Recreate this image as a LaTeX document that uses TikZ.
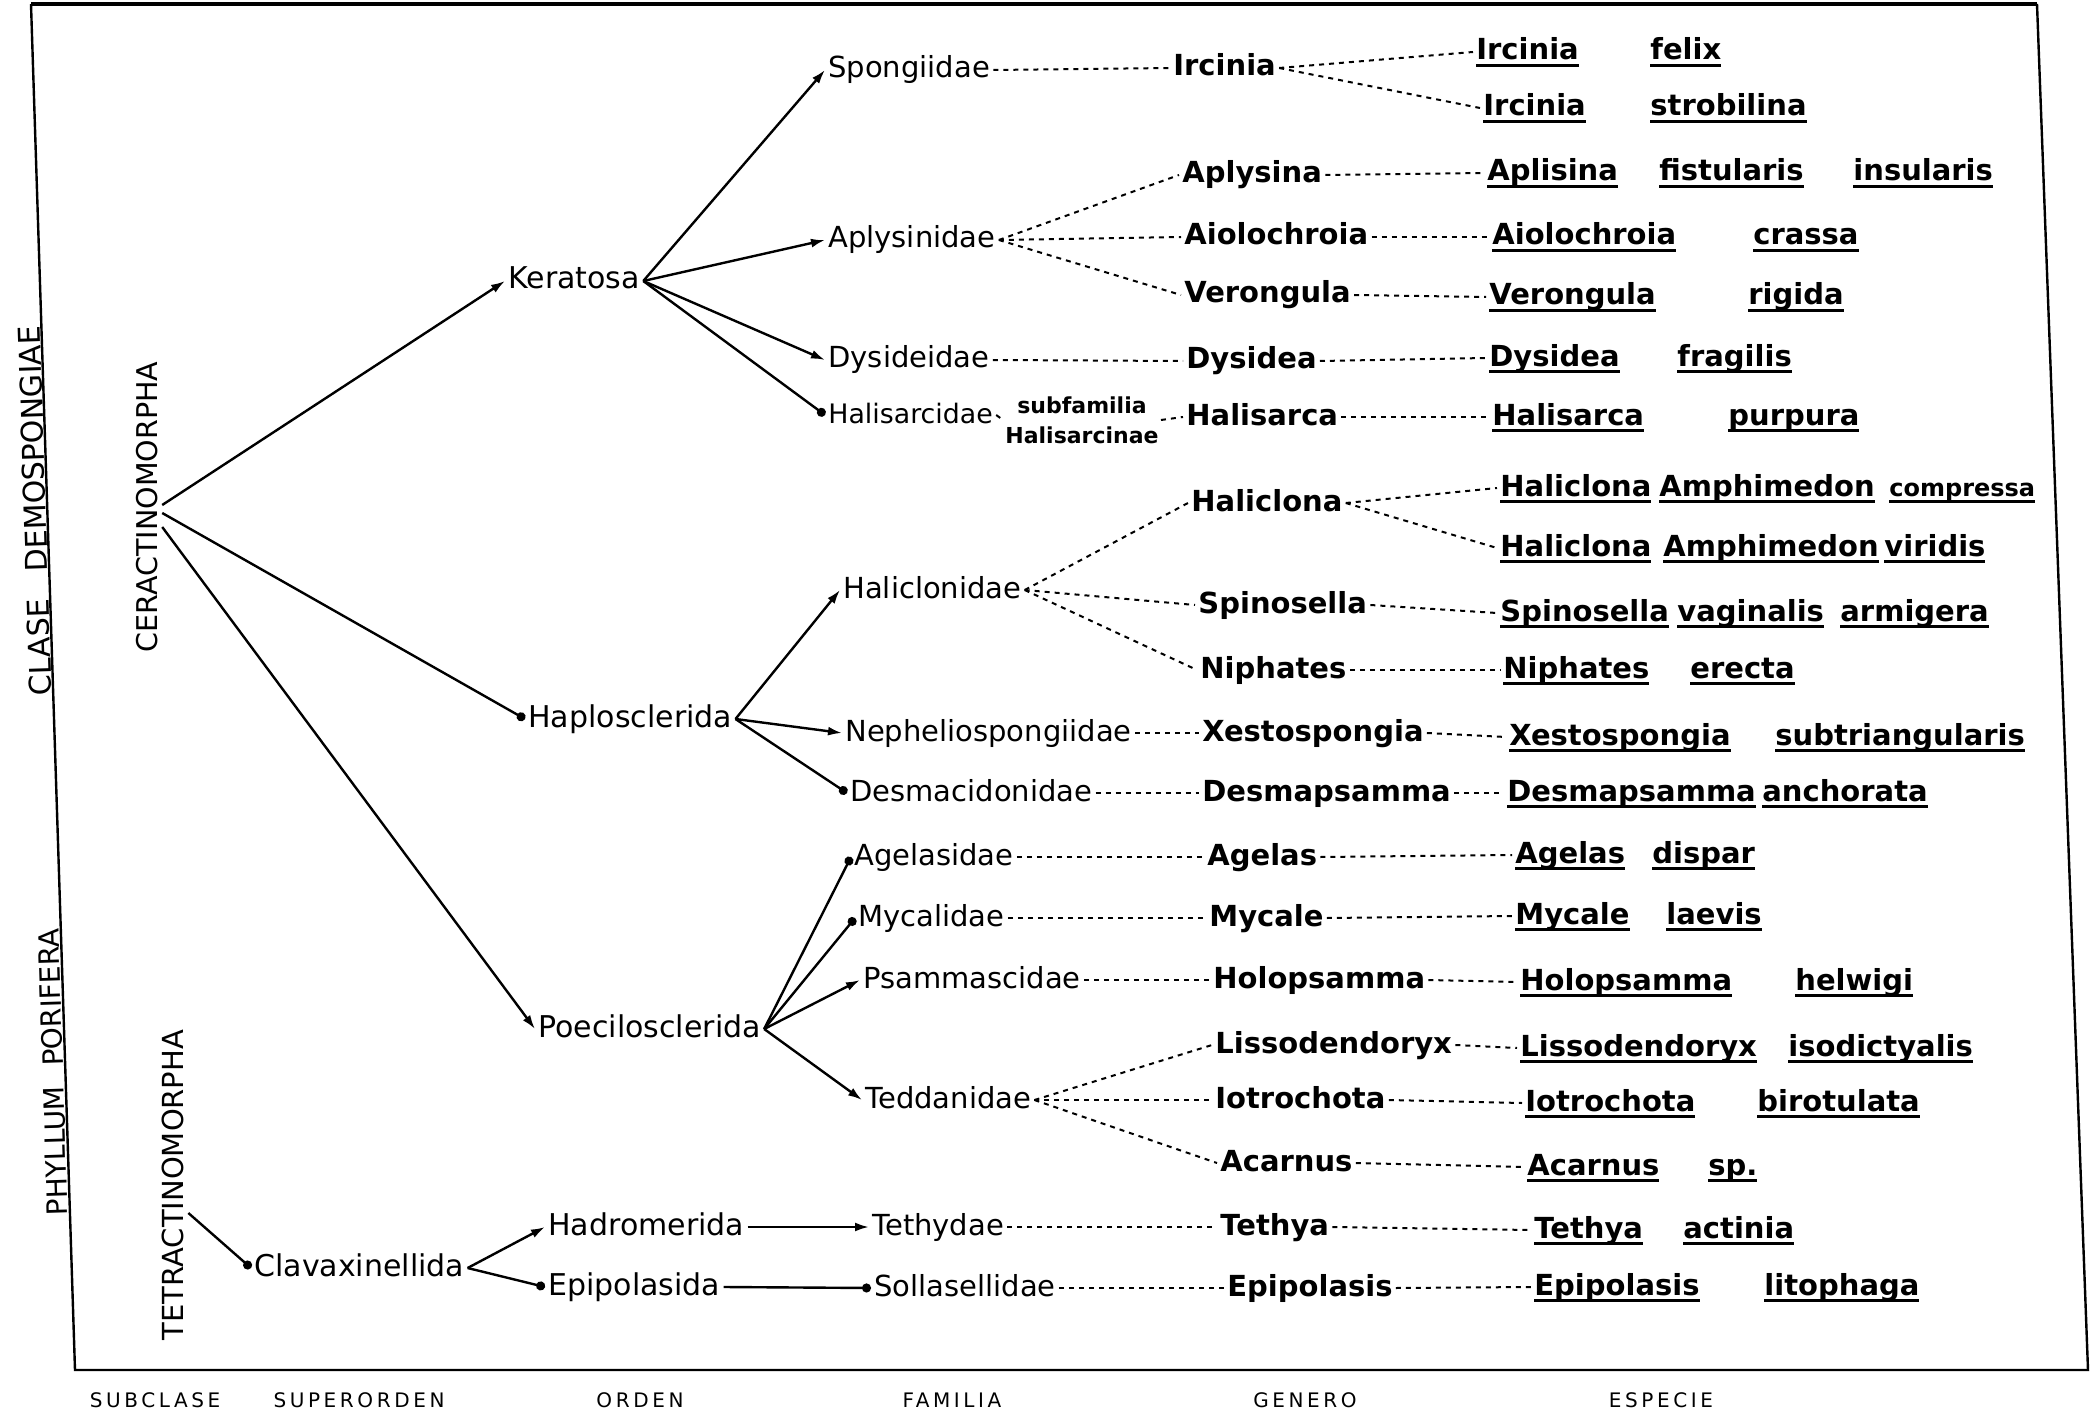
\documentclass[tikz,border=0pt]{standalone}
\usepackage{fontspec}
\setmainfont{DejaVu Sans}
\newfontfamily\spaced[LetterSpace=18]{DejaVu Sans}
\usetikzlibrary{arrows.meta}
\newcommand{\uw}[1]{\setbox0=\hbox{#1}\rlap{\rule[-3.5pt]{\wd0}{1.3pt}}\box0}

\begin{document}
\begin{tikzpicture}[x=0.5pt, y=-0.5pt, font=\fontsize{15}{18}\selectfont, >={Latex[length=7pt,width=4.5pt]}]
\tikzstyle{lab}=[inner sep=1.5pt, anchor=west, text height=10pt, text depth=2pt]
\tikzstyle{fam}=[lab, font=\fontsize{14.5}{17}\selectfont]
\tikzstyle{gen}=[lab, font=\fontsize{14.5}{17}\selectfont\bfseries]
\tikzstyle{vert}=[rotate=90, inner sep=2pt]
\tikzstyle{colhead}=[font=\spaced\fontsize{10}{12}\selectfont]
\tikzstyle{stem}=[line width=1.2pt]
\tikzstyle{arr}=[stem, ->]
\tikzstyle{dotarr}=[stem, -{Circle[length=4.5pt]}]
\tikzstyle{leader}=[line width=1pt, dash pattern=on 2.5pt off 2.5pt]
\useasboundingbox (0,0) rectangle (2095,1412);
\draw[line width=2pt] (31,4) -- (2037,4);
\draw[line width=1.2pt] (2037,4) -- (2088,1370) -- (75,1370) -- (31,4);

\node[vert, rotate=1.8, font=\fontsize{15}{18}\selectfont] (cls) at (35,511) {CLASE\hspace{13.5pt}DEMOSPONGIAE};
\node[vert, rotate=1.8, font=\fontsize{14}{17}\selectfont] (phy) at (53,1072) {PHYLLUM\hspace{10pt}PORIFERA};
\node[vert, font=\fontsize{14.3}{17}\selectfont] (cer) at (147,507) {CERACTINOMORPHA};
\node[vert, font=\fontsize{14.5}{17}\selectfont] (tet) at (173,1185) {TETRACTINOMORPHA};

\node[lab] (ker) at (505,281) {Keratosa};
\node[lab] (hap) at (525,719) {Haplosclerida};
\node[lab] (poe) at (535,1029) {Poecilosclerida};
\node[lab] (cla) at (251,1268) {Clavaxinellida};
\node[lab] (had) at (545,1227) {Hadromerida};
\node[lab] (epi) at (545,1287) {Epipolasida};

\node[fam] (spo) at (825,70) {Spongiidae};
\node[fam] (apl) at (825,240) {Aplysinidae};
\node[fam] (dys) at (825,360) {Dysideidae};
\node[lab, font=\fontsize{13.4}{16}\selectfont] (hls) at (825,415) {Halisarcidae};
\node[align=center, inner sep=1pt, font=\fontsize{11}{15}\selectfont\bfseries] (sub) at (1082,420) {subfamilia\\Halisarcinae};
\node[fam] (hcl) at (840,590) {Haliclonidae};
\node[fam] (nep) at (842,733) {Nepheliospongiidae};
\node[fam] (dsm) at (847,793) {Desmacidonidae};
\node[fam] (age) at (851,857) {Agelasidae};
\node[fam] (myc) at (855,918) {Mycalidae};
\node[fam] (psa) at (860,980) {Psammascidae};
\node[fam] (ted) at (862,1100) {Teddanidae};
\node[fam] (tth) at (869,1227) {Tethydae};
\node[fam] (sol) at (871,1288) {Sollasellidae};

\node[gen] (irc) at (1170,68) {Ircinia};
\node[gen] (aps) at (1179,175) {Aplysina};
\node[gen] (aio) at (1181,237) {Aiolochroia};
\node[gen] (ver) at (1181,295) {Verongula};
\node[gen] (dsd) at (1183,361) {Dysidea};
\node[gen] (hsa) at (1183,417) {Halisarca};
\node[gen] (hna) at (1188,503) {Haliclona};
\node[gen] (spi) at (1195,605) {Spinosella};
\node[gen] (nip) at (1197,670) {Niphates};
\node[gen] (xes) at (1199,733) {Xestospongia};
\node[gen] (dmp) at (1199,793) {Desmapsamma};
\node[gen] (agl) at (1204,857) {Agelas};
\node[gen] (mcl) at (1206,918) {Mycale};
\node[gen] (hol) at (1210,980) {Holopsamma};
\node[gen] (lis) at (1212,1045) {Lissodendoryx};
\node[gen] (iot) at (1212,1100) {Iotrochota};
\node[gen] (aca) at (1217,1163) {Acarnus};
\node[gen] (tya) at (1217,1227) {Tethya};
\node[gen] (eps) at (1224,1288) {Epipolasis};

\node[gen] (s1) at (1473,52) {\makebox[87pt][l]{\uw{Ircinia}}\uw{felix}};
\node[gen] (s2) at (1480,108) {\makebox[83.5pt][l]{\uw{Ircinia}}\uw{strobilina}};
\node[gen] (s3) at (1484,173) {\makebox[86pt][l]{\uw{Aplisina}}\makebox[97pt][l]{\uw{fistularis}}\uw{insularis}};
\node[gen] (s4) at (1489,237) {\makebox[130.5pt][l]{\uw{Aiolochroia}}\uw{crassa}};
\node[gen] (s5) at (1486,297) {\makebox[129.5pt][l]{\uw{Verongula}}\uw{rigida}};
\node[gen] (s6) at (1486,358) {\makebox[94pt][l]{\uw{Dysidea}}\uw{fragilis}};
\node[gen] (s7) at (1489,417) {\makebox[118pt][l]{\uw{Halisarca}}\uw{purpura}};
\node[gen] (s8) at (1497,488) {\makebox[79.5pt][l]{\uw{Haliclona}}\makebox[115pt][l]{\uw{Amphimedon}}{\fontsize{12}{14}\selectfont\uw{compressa}}};
\node[gen] (s9) at (1497,548) {\makebox[81.5pt][l]{\uw{Haliclona}}\makebox[110.5pt][l]{\uw{Amphimedon}}\uw{viridis}};
\node[gen] (s10) at (1497,613) {\makebox[88.5pt][l]{\uw{Spinosella}}\makebox[81.5pt][l]{\uw{vaginalis}}\uw{armigera}};
\node[gen] (s11) at (1500,670) {\makebox[93.5pt][l]{\uw{Niphates}}\uw{erecta}};
\node[gen] (s12) at (1506,737) {\makebox[133pt][l]{\uw{Xestospongia}}\uw{subtriangularis}};
\node[gen] (s13) at (1504,793) {\makebox[127.5pt][l]{\uw{Desmapsamma}}\uw{anchorata}};
\node[gen] (s14) at (1512,855) {\makebox[68.5pt][l]{\uw{Agelas}}\uw{dispar}};
\node[gen] (s15) at (1512,916) {\makebox[75.5pt][l]{\uw{Mycale}}\uw{laevis}};
\node[gen] (s16) at (1517,982) {\makebox[137.5pt][l]{\uw{Holopsamma}}\uw{helwigi}};
\node[gen] (s17) at (1517,1048) {\makebox[134pt][l]{\uw{Lissodendoryx}}\uw{isodictyalis}};
\node[gen] (s18) at (1522,1103) {\makebox[116pt][l]{\uw{Iotrochota}}\uw{birotulata}};
\node[gen] (s19) at (1524,1167) {\makebox[90.5pt][l]{\uw{Acarnus}}\uw{sp.}};
\node[gen] (s20) at (1531,1230) {\makebox[74.5pt][l]{\uw{Tethya}}\uw{actinia}};
\node[gen] (s21) at (1531,1287) {\makebox[115pt][l]{\uw{Epipolasis}}\uw{litophaga}};

\node[colhead] (h1) at (155,1400) {SUBCLASE};
\node[colhead] (h2) at (359,1400) {SUPERORDEN};
\node[colhead] (h3) at (640,1400) {ORDEN};
\node[colhead] (h4) at (952,1400) {FAMILIA};
\node[colhead] (h5) at (1305,1400) {GENERO};
\node[colhead] (h6) at (1661,1400) {ESPECIE};

\draw[arr] ([yshift=1pt]cer.south) -- (ker.west);
\draw[dotarr] ([yshift=-3pt]cer.south) -- (hap.west);
\draw[arr] ([yshift=-10pt]cer.south) -- (poe.west);
\draw[dotarr] ([yshift=-14pt]tet.south) -- (cla.west);

\draw[arr] (ker.east) -- (spo.west);
\draw[arr] (ker.east) -- (apl.west);
\draw[arr] (ker.east) -- (dys.west);
\draw[dotarr] (ker.east) -- (hls.west);
\draw[arr] (hap.east) -- (hcl.west);
\draw[arr] (hap.east) -- (nep.west);
\draw[dotarr] (hap.east) -- (dsm.west);
\draw[dotarr] (poe.east) -- (age.west);
\draw[dotarr] (poe.east) -- (myc.west);
\draw[arr] (poe.east) -- (psa.west);
\draw[arr] (poe.east) -- (ted.west);
\draw[arr] (cla.east) -- (had.west);
\draw[dotarr] (cla.east) -- (epi.west);
\draw[arr] (had.east) -- (tth.west);
\draw[dotarr] (epi.east) -- (sol.west);

\draw[leader] (spo.east) -- (irc.west);
\draw[leader] (irc.east) -- (s1.west);
\draw[leader] (irc.east) -- (s2.west);
\draw[leader] (apl.east) -- (aps.west);
\draw[leader] (apl.east) -- (aio.west);
\draw[leader] (apl.east) -- (ver.west);
\draw[leader] (aps.east) -- (s3.west);
\draw[leader] (aio.east) -- (s4.west);
\draw[leader] (ver.east) -- (s5.west);
\draw[leader] (dys.east) -- (dsd.west);
\draw[leader] (dsd.east) -- (s6.west);
\draw[leader] (hls.east) -- (sub.west);
\draw[leader] (sub.east) -- (hsa.west);
\draw[leader] (hsa.east) -- (s7.west);
\draw[leader] (hcl.east) -- (hna.west);
\draw[leader] (hcl.east) -- (spi.west);
\draw[leader] (hcl.east) -- (nip.west);
\draw[leader] (hna.east) -- (s8.west);
\draw[leader] (hna.east) -- (s9.west);
\draw[leader] (spi.east) -- (s10.west);
\draw[leader] (nip.east) -- (s11.west);
\draw[leader] (nep.east) -- (xes.west);
\draw[leader] (xes.east) -- (s12.west);
\draw[leader] (dsm.east) -- (dmp.west);
\draw[leader] (dmp.east) -- (s13.west);
\draw[leader] (age.east) -- (agl.west);
\draw[leader] (agl.east) -- (s14.west);
\draw[leader] (myc.east) -- (mcl.west);
\draw[leader] (mcl.east) -- (s15.west);
\draw[leader] (psa.east) -- (hol.west);
\draw[leader] (hol.east) -- (s16.west);
\draw[leader] (ted.east) -- (lis.west);
\draw[leader] (ted.east) -- (iot.west);
\draw[leader] (ted.east) -- (aca.west);
\draw[leader] (lis.east) -- (s17.west);
\draw[leader] (iot.east) -- (s18.west);
\draw[leader] (aca.east) -- (s19.west);
\draw[leader] (tth.east) -- (tya.west);
\draw[leader] (tya.east) -- (s20.west);
\draw[leader] (sol.east) -- (eps.west);
\draw[leader] (eps.east) -- (s21.west);
\end{tikzpicture}
\end{document}
